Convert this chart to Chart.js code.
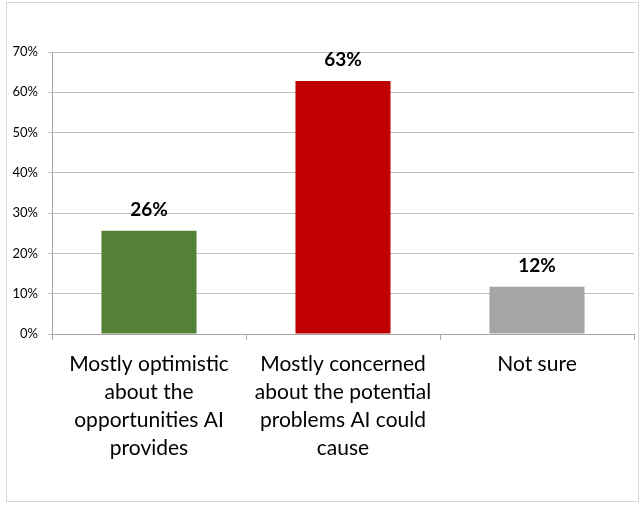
<!DOCTYPE html>
<html>
<head>
    <title>AI Opinion Chart</title>
    <script src="https://cdn.jsdelivr.net/npm/chart.js"></script>
    <style>
        body { margin: 0; background: #fff; }
        .frame { position: absolute; left: 6px; top: 2px; width: 631px; height: 498px; border: 1px solid #d9d9d9; }
        .wrap { position: absolute; left: 0; top: 0; width: 644px; height: 509px; }
    </style>
</head>
<body>
    <div class="frame"></div>
    <div class="wrap"><canvas id="chart" width="644" height="509"></canvas></div>

    <script>
        // Chart data
        const categories = [
            ['Mostly optimistic', 'about the', 'opportunities AI', 'provides'],
            ['Mostly concerned', 'about the potential', 'problems AI could', 'cause'],
            ['Not sure']
        ];
        const values = [25.6, 62.8, 11.7];
        const valueText = ['26%', '63%', '12%'];
        const barColors = ['#538135', '#c00000', '#a5a5a5'];
        const yTicks = [0, 10, 20, 30, 40, 50, 60, 70];

        // draws the percentage above each bar
        const valueLabels = {
            id: 'valueLabels',
            afterDatasetsDraw(chart) {
                const ctx = chart.ctx;
                const meta = chart.getDatasetMeta(0);
                ctx.save();
                ctx.font = 'bold 19px Lato';
                ctx.fillStyle = '#000';
                ctx.textAlign = 'center';
                ctx.textBaseline = 'middle';
                meta.data.forEach((bar, i) => {
                    ctx.fillText(valueText[i], bar.x, bar.y - 21);
                });
                ctx.restore();
            }
        };

        new Chart(document.getElementById('chart'), {
            type: 'bar',
            data: {
                labels: categories,
                datasets: [{
                    data: values,
                    backgroundColor: barColors,
                    borderWidth: 0,
                    categoryPercentage: 1,
                    barPercentage: 0.49
                }]
            },
            options: {
                responsive: false,
                animation: false,
                layout: { padding: { top: 52, right: 10, left: 0, bottom: 0 } },
                plugins: { legend: { display: false }, tooltip: { enabled: false } },
                scales: {
                    x: {
                        afterFit: s => { s.height = 175; },
                        grid: { offset: true, drawOnChartArea: false, tickLength: 6, color: '#a6a6a6' },
                        border: { color: '#a6a6a6' },
                        ticks: {
                            color: '#000',
                            padding: 10,
                            maxRotation: 0,
                            font: { family: 'Lato', size: 21, lineHeight: 28 / 21 }
                        }
                    },
                    y: {
                        min: 0,
                        max: 70,
                        afterFit: s => { s.width = 52; },
                        afterBuildTicks: s => { s.ticks = yTicks.map(v => ({ value: v })); },
                        grid: { tickLength: 4, color: '#bfbfbf' },
                        border: { color: '#a6a6a6' },
                        ticks: {
                            color: '#000',
                            padding: 10,
                            font: { family: 'Lato', size: 13 },
                            callback: v => v + '%'
                        }
                    }
                }
            },
            plugins: [valueLabels]
        });
    </script>
</body>
</html>
